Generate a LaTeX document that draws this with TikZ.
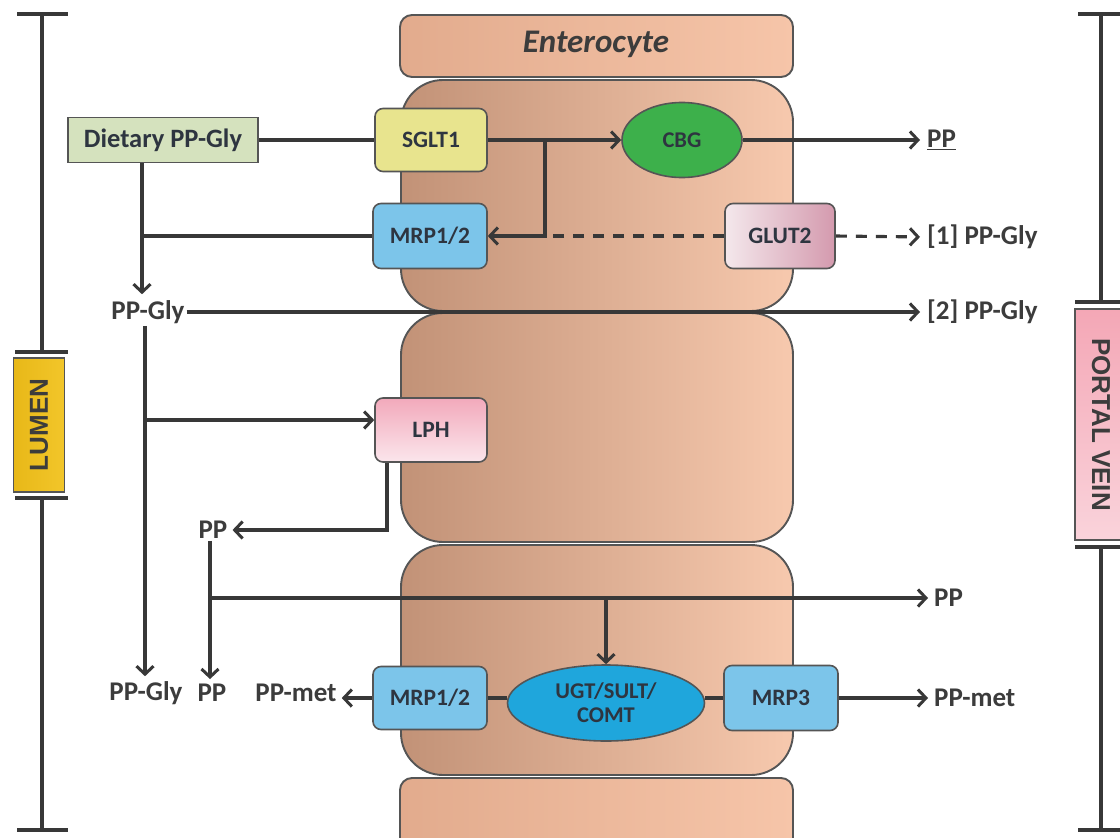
\documentclass[tikz,border=0pt]{standalone}
\usepackage{fontspec}
\setmainfont{Carlito}
\newfontfamily\arialfont{Liberation Sans}
\usetikzlibrary{arrows.meta,shapes.geometric,calc}
\definecolor{linec}{HTML}{383838}
\definecolor{boxb}{HTML}{555555}
\definecolor{txt}{HTML}{3C3C3C}
\definecolor{boxt}{HTML}{2E3540}
\definecolor{cellL}{HTML}{C29277}
\definecolor{cellR}{HTML}{F7C9AE}
\definecolor{barL}{HTML}{E2AB8D}
\definecolor{barR}{HTML}{F6C5A9}
\definecolor{dietc}{HTML}{D5E2BE}
\definecolor{sgltc}{HTML}{E8E48E}
\definecolor{cbgc}{HTML}{3DB04B}
\definecolor{mrpc}{HTML}{7CC5EA}
\definecolor{glutL}{HTML}{F4E8EC}
\definecolor{glutR}{HTML}{D49AAE}
\definecolor{lphT}{HTML}{F2A9BB}
\definecolor{lphB}{HTML}{FBE6EC}
\definecolor{ugtc}{HTML}{1FA6DC}
\definecolor{lumenc}{HTML}{F2C62A}
\definecolor{lumenL}{HTML}{E8B818}
\definecolor{veinL}{HTML}{F4A7B6}
\definecolor{veinR}{HTML}{FAD3DB}
\pgfdeclarelayer{paper}
\pgfdeclarelayer{cells}
\pgfdeclarelayer{lines}
\pgfsetlayers{paper,cells,lines,main}
\tikzset{
  conn/.style={draw=linec, line width=3.1pt},
  arr/.style={conn, -{Straight Barb[length=8pt,width=17pt,line width=3pt]}},
  dashconn/.style={conn, dash pattern=on 11pt off 9pt},
  brk/.style={draw=linec, line width=3.2pt},
  cellshape/.style={draw=boxb, line width=1.9pt, left color=cellL, right color=cellR, rounded corners=42pt},
  barshape/.style={draw=boxb, line width=1.9pt, left color=barL, right color=barR, rounded corners=12pt},
  box/.style={draw=boxb, line width=1.6pt, rounded corners=8pt, text=boxt,
    font=\fontsize{23.5}{26}\selectfont\bfseries, inner sep=2pt},
  oval/.style={ellipse, draw=boxb, line width=1.6pt, text=boxt, align=center,
    font=\fontsize{22.5}{24}\selectfont\bfseries, inner sep=0pt},
  lbl/.style={text=txt, font=\fontsize{27}{30}\selectfont\bfseries, inner sep=2pt},
  sidebox/.style={draw=boxb, line width=1.6pt, inner sep=0pt, text=txt,
    font=\arialfont\fontsize{26}{28}\selectfont\bfseries},
}
\begin{document}
\begin{tikzpicture}[x=1pt,y=-1pt]
\useasboundingbox (0,0) rectangle (1120,838);
\clip (0,0) rectangle (1120,838);
\begin{pgfonlayer}{paper}
\fill[white] (0,0) rectangle (1120,838);
\end{pgfonlayer}

% enterocyte stack
\begin{pgfonlayer}{cells}
\path[barshape] (400,15) rectangle (793,77);
\path[cellshape] (401,80) rectangle (793,311);
\path[cellshape] (401,313) rectangle (793,542);
\path[cellshape] (401,545) rectangle (793,775);
\path[barshape] (400,778) rectangle (793,860);
\end{pgfonlayer}
\node[text=txt, font=\fontsize{33}{36}\selectfont\bfseries\itshape] (ent) at (596,44) {Enterocyte};

% brackets
\node[sidebox, left color=lumenL, right color=lumenc, minimum width=134pt, minimum height=51pt, rotate=90] (lumen) at (39,425) {LUMEN};
\draw[brk] (17,14) -- (68,14);
\draw[brk] (42,14) -- (42,352);
\draw[brk] (15,352) -- (68,352);
\draw[brk] (15,498) -- (68,498);
\draw[brk] (42,498) -- (42,830);
\draw[brk] (17,830) -- (68,830);

\node[sidebox, top color=veinL, bottom color=veinR, minimum width=231pt, minimum height=52pt, rotate=-90] (vein) at (1101,424.5) {PORTAL VEIN};
\draw[brk] (1078,14) -- (1125,14);
\draw[brk] (1101,14) -- (1101,302);
\draw[brk] (1075,302) -- (1125,302);
\draw[brk] (1075,547) -- (1125,547);
\draw[brk] (1101,547) -- (1101,830);
\draw[brk] (1078,830) -- (1125,830);

% nodes
\node[box, rounded corners=0pt, fill=dietc, minimum width=190pt, minimum height=45pt, font=\fontsize{26.5}{28}\selectfont\bfseries] (diet) at (163,140) {Dietary PP-Gly};
\node[box, fill=sgltc, minimum width=112pt, minimum height=63pt] (sglt) at (431,140) {SGLT1};
\node[oval, fill=cbgc, minimum width=120pt, minimum height=75pt] (cbg) at (682,140) {CBG};
\node[box, fill=mrpc, minimum width=114pt, minimum height=65pt] (mrp1) at (430,236) {MRP1/2};
\node[box, left color=glutL, right color=glutR, minimum width=110pt, minimum height=65pt] (glut) at (780,236) {GLUT2};
\node[box, top color=lphT, bottom color=lphB, minimum width=112pt, minimum height=64pt] (lph) at (431,430) {LPH};
\node[box, fill=mrpc, minimum width=114pt, minimum height=63pt] (mrp2) at (430,698) {MRP1/2};
\node[oval, fill=ugtc, minimum width=197pt, minimum height=76pt] (ugt) at (606,703) {UGT/SULT/\\COMT};
\node[box, fill=mrpc, minimum width=114pt, minimum height=65pt] (mrp3) at (781,698) {MRP3};

% labels
\node[lbl, anchor=west] (lPP1) at (925,140) {\underline{PP}};
\node[lbl, anchor=west] (lG1) at (925,237) {[1] PP-Gly};
\node[lbl, anchor=west] (lG2) at (925,312) {[2] PP-Gly};
\node[lbl, anchor=west] (lPP2) at (932,598) {PP};
\node[lbl, anchor=west] (lMet2) at (932,698) {PP-met};
\node[lbl] (lGly) at (148,312) {PP-Gly};
\node[lbl] (lPPm) at (213,530) {PP};
\node[lbl] (bGly) at (146,693) {PP-Gly};
\node[lbl] (bPP) at (212,693) {PP};
\node[lbl] (bMet) at (296,693) {PP-met};

% helper coordinates
\coordinate (j1) at (545,140);
\coordinate (vA) at (142,0);
\coordinate (vB) at (145,0);
\coordinate (b1) at (145,420);
\coordinate (vC) at (387,0);
\coordinate (h1) at (210,598);
\coordinate (h2) at (606,598);

\begin{pgfonlayer}{lines}
\draw[conn] (diet.east) -- (sglt.west);
\draw[arr] (sglt.east) -- (cbg.west);
\draw[arr] (j1) -- (j1 |- mrp1.east) -- (mrp1.east);
\draw[dashconn] (glut.west) -- (j1 |- glut.west);
\draw[arr, dash pattern=on 11pt off 9pt, shorten >=5pt] (glut.east) -- (lG1.west);
\draw[arr, shorten >=5pt] (cbg.east) -- (cbg.east -| lPP1.west);
\draw[arr, shorten >=4pt] (diet.south -| vA) -- (lGly.north -| vA);
\draw[conn] (mrp1.west) -- (mrp1.west -| vA);
\draw[arr, shorten >=5pt] (lGly.east) -- (lG2.west);
\draw[arr, shorten >=3pt] (lGly.south -| vB) -- (bGly.north -| vB);
\draw[arr] (b1) -- (lph.west |- b1);
\draw[arr, shorten >=3pt] (lph.south -| vC) |- (lPPm.east);
\draw[arr, shorten >=3pt] (lPPm.south -| h1) -- (bPP.north -| h1);
\draw[arr, shorten >=4pt] (h1) -- (lPP2.west);
\draw[arr] (h2) -- (ugt.north);
\draw[arr, shorten >=3pt] (mrp2.west) -- (mrp2.west -| bMet.east);
\draw[conn] (mrp2.east) -- (mrp2.east -| ugt.west);
\draw[conn] (mrp3.west) -- (mrp3.west -| ugt.east);
\draw[arr, shorten >=4pt] (mrp3.east) -- (lMet2.west);
\end{pgfonlayer}
\end{tikzpicture}
\end{document}
